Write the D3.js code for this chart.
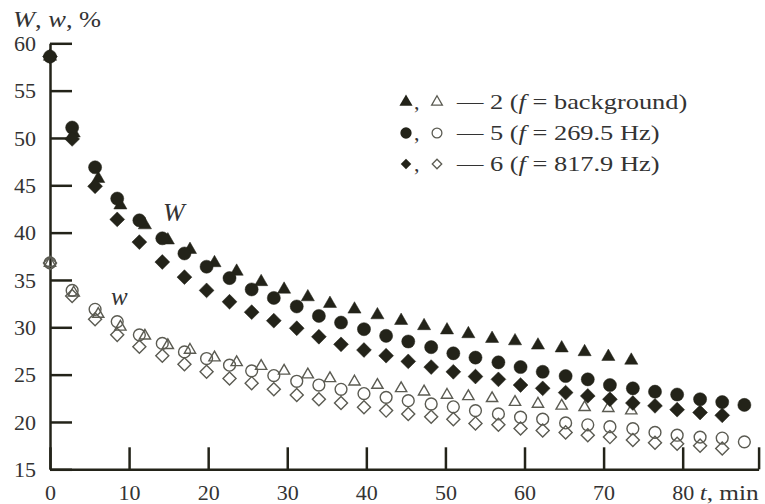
<!DOCTYPE html>
<html>
<head>
<meta charset="utf-8">
<script src="https://cdn.jsdelivr.net/npm/d3@7"></script>
<style>
body { margin: 0; background: #fff; }
text { font-family: "Liberation Serif", "Times New Roman", serif; fill: #333; }
</style>
</head>
<body>
<div id="chart"></div>
<script>
// Chart size
const width = 765;
const height = 504;

// Time points (min) for triangles (series 2) and for circles/diamonds (series 5 and 6)
const timeTri = [0, 3.0, 6.1, 8.9, 12.0, 14.9, 17.7, 20.8, 23.6, 26.7, 29.6, 32.6, 35.4,
    38.5, 41.4, 44.4, 47.3, 50.2, 52.9, 55.9, 58.8, 61.7, 64.7, 67.6, 70.6, 73.5];
const timeCD = [0, 2.8, 5.7, 8.5, 11.3, 14.2, 17.0, 19.8, 22.7, 25.5, 28.3, 31.2, 34.0,
    36.8, 39.7, 42.5, 45.3, 48.2, 51.0, 53.8, 56.7, 59.5, 62.3, 65.2, 68.0, 70.8, 73.7,
    76.5, 79.3, 82.2, 85.0, 87.8];

// W (filled markers)
const W2 = [58.6, 50.5, 45.7, 42.9, 40.8, 39.2, 38.2, 36.8, 35.9, 34.8, 34.0, 33.2, 32.5,
    31.9, 31.3, 30.7, 30.15, 29.7, 29.3, 28.8, 28.55, 28.1, 27.8, 27.4, 26.9, 26.5];
const W5 = [58.6, 51.1, 46.9, 43.6, 41.3, 39.4, 37.8, 36.4, 35.2, 34.0, 33.1, 32.2, 31.2,
    30.5, 29.8, 29.1, 28.5, 27.9, 27.25, 26.8, 26.3, 25.8, 25.3, 24.85, 24.5, 23.9, 23.55,
    23.2, 22.9, 22.4, 22.1, 21.8];
const W6 = [58.6, 49.9, 44.9, 41.4, 39.0, 36.9, 35.3, 33.9, 32.7, 31.6, 30.7, 29.9, 29.0,
    28.2, 27.6, 27.0, 26.4, 25.8, 25.3, 24.8, 24.5, 23.9, 23.55, 23.1, 22.75, 22.4, 22.0,
    21.7, 21.3, 21.0, 20.7];

// w (open markers)
const w2 = [36.8, 33.65, 31.4, 30.05, 29.1, 28.1, 27.6, 26.8, 26.3, 25.9, 25.4, 25.0, 24.6,
    24.25, 23.9, 23.55, 23.2, 22.85, 22.7, 22.5, 22.1, 21.9, 21.7, 21.55, 21.45, 21.2];
const w5 = [36.8, 33.9, 31.9, 30.6, 29.2, 28.3, 27.4, 26.7, 26.0, 25.4, 24.9, 24.3, 23.9,
    23.45, 23.0, 22.6, 22.25, 21.9, 21.6, 21.2, 20.85, 20.5, 20.3, 19.9, 19.7, 19.5, 19.3,
    18.9, 18.6, 18.4, 18.3, 17.9];
const w6 = [36.8, 33.3, 30.85, 29.2, 27.95, 27.0, 26.1, 25.3, 24.6, 24.1, 23.45, 22.85, 22.4,
    22.0, 21.55, 21.2, 20.85, 20.55, 20.3, 19.85, 19.7, 19.3, 19.1, 18.9, 18.6, 18.4, 18.1,
    17.8, 17.7, 17.5, 17.2];

// Axis ticks
const xTicks = [0, 10, 20, 30, 40, 50, 60, 70, 80];
const xEnd = 89.6;
const yTicks = [15, 20, 25, 30, 35, 40, 45, 50, 55, 60];

const ink = "#232319";
const openInk = "#5b5b52";

const svg = d3.select("#chart")
    .append("svg")
    .attr("width", width)
    .attr("height", height);

const x = d3.scaleLinear().domain([0, xEnd]).range([50, 758.6]);
const y = d3.scaleLinear().domain([15, 60]).range([469.3, 43.3]);

// Marker shapes
const shapes = {
    tri: d3.symbolTriangle,
    circ: d3.symbolCircle,
    diam: d3.symbolSquare
};
function markerPath(shape, size) {
    return d3.symbol().type(shapes[shape]).size(size)();
}
function rot(shape) {
    return shape === "diam" ? " rotate(45)" : "";
}

// Series table built from the arrays above
const series = [
    { t: timeTri, v: w2, shape: "tri", filled: false, size: 55 },
    { t: timeCD, v: w5, shape: "circ", filled: false, size: 110 },
    { t: timeCD, v: w6, shape: "diam", filled: false, size: 85 },
    { t: timeTri, v: W2, shape: "tri", filled: true, size: 75 },
    { t: timeCD, v: W5, shape: "circ", filled: true, size: 135 },
    { t: timeCD, v: W6, shape: "diam", filled: true, size: 110 }
];

// Axes
const yAxis = svg.append("g")
    .attr("transform", "translate(50,0)")
    .call(d3.axisLeft(y).tickValues(yTicks).tickSize(-22).tickSizeOuter(0).tickPadding(14));

const xAxis = svg.append("g")
    .attr("transform", `translate(0,${y(15)})`)
    .call(d3.axisBottom(x).tickValues(xTicks.concat([xEnd])).tickSize(-22).tickSizeOuter(0)
        .tickPadding(15).tickFormat(d => d === xEnd ? "" : d));

[yAxis, xAxis].forEach(function(ax) {
    ax.selectAll("path, line").attr("stroke", ink).attr("stroke-width", 2.5);
    ax.selectAll("text").attr("fill", "#333").style("font-size", "22px")
        .style("font-family", "'Liberation Serif', 'Times New Roman', serif");
});

// "t, min" after the 80 label
const tLabel = svg.append("text")
    .attr("transform", `translate(${x(80) + 17},${y(15) + 15}) scale(1.15,1)`)
    .attr("dy", "0.71em")
    .style("font-size", "22px");
tLabel.append("tspan").attr("font-style", "italic").text("t");
tLabel.append("tspan").text(", min");

// Y axis title
const yTitle = svg.append("text")
    .attr("transform", "translate(13,27) scale(1.15,1)")
    .style("font-size", "23px");
yTitle.append("tspan").attr("font-style", "italic").text("W");
yTitle.append("tspan").text(", ");
yTitle.append("tspan").attr("font-style", "italic").text("w");
yTitle.append("tspan").text(", %");

// Markers
series.forEach(function(s) {
    svg.append("g")
        .selectAll("path")
        .data(s.v.map((v, i) => ({ t: s.t[i], v: v })))
        .join("path")
        .attr("d", markerPath(s.shape, s.size))
        .attr("transform", d => `translate(${x(d.t)},${y(d.v)})${rot(s.shape)}`)
        .attr("fill", s.filled ? ink : "none")
        .attr("stroke", s.filled ? ink : openInk)
        .attr("stroke-width", s.filled ? 0.5 : 1.4);
});

// Curve labels
svg.append("text").attr("x", 163).attr("y", 221).attr("font-style", "italic")
    .style("font-size", "26px").attr("fill", "#444").text("W");
svg.append("text").attr("x", 111).attr("y", 305).attr("font-style", "italic")
    .style("font-size", "25px").attr("fill", "#444").text("w");

// Legend
const legendRows = [
    { shape: "tri", num: "2", rest: " = background)", sizeF: 75, sizeO: 50 },
    { shape: "circ", num: "5", rest: " = 269.5 Hz)", sizeF: 100, sizeO: 75 },
    { shape: "diam", num: "6", rest: " = 817.9 Hz)", sizeF: 55, sizeO: 45 }
];

const legend = svg.selectAll(".legend")
    .data(legendRows)
    .join("g")
    .attr("class", "legend")
    .attr("transform", (d, i) => `translate(398, ${109 + i * 31})`);

legend.append("path")
    .attr("d", d => markerPath(d.shape, d.sizeF))
    .attr("transform", d => `translate(8,-7)${rot(d.shape)}`)
    .attr("fill", ink);

legend.append("text")
    .attr("x", 16)
    .style("font-size", "22px")
    .text(",");

legend.append("path")
    .attr("d", d => markerPath(d.shape, d.sizeO))
    .attr("transform", d => `translate(39,-7)${rot(d.shape)}`)
    .attr("fill", "none")
    .attr("stroke", openInk)
    .attr("stroke-width", 1.3);

const legendText = legend.append("text")
    .attr("transform", "translate(59,0) scale(1.2,1)")
    .style("font-size", "22px");
legendText.append("tspan").text(d => "\u2014 " + d.num + " (");
legendText.append("tspan").attr("font-style", "italic").text("f");
legendText.append("tspan").text(d => d.rest);
</script>
</body>
</html>
